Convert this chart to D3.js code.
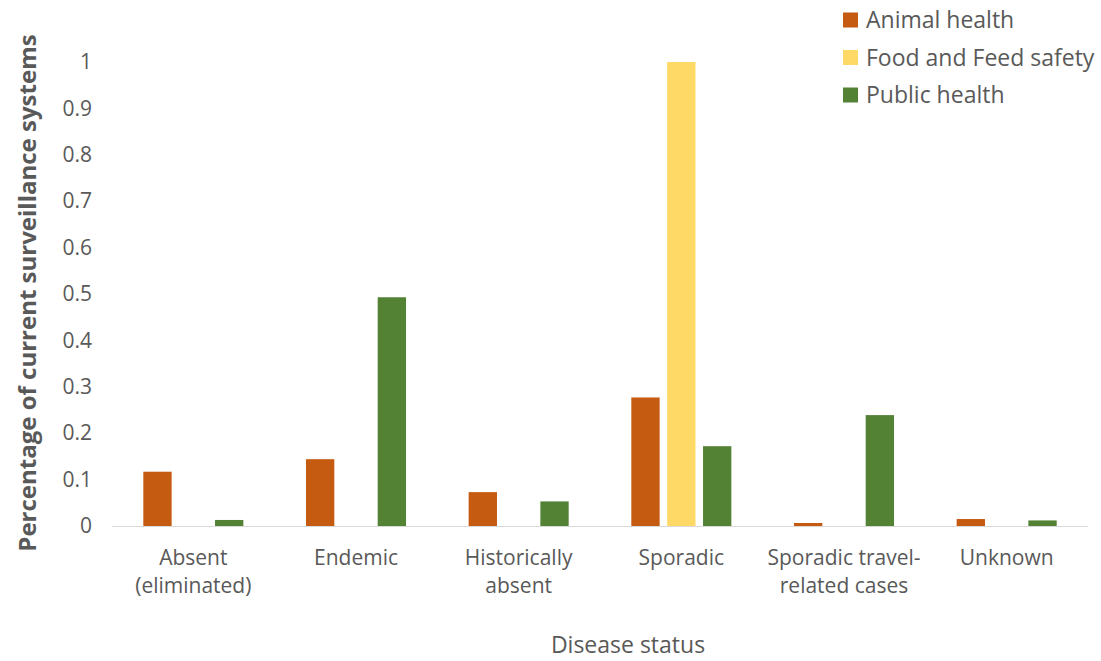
<!DOCTYPE html>
<html>
<head>
<meta charset="utf-8">
<script src="https://cdn.jsdelivr.net/npm/d3@7"></script>
<style>
  html, body { margin: 0; padding: 0; background: #fff; }
  svg { display: block; font-family: "Open Sans", Lato, sans-serif; }
</style>
</head>
<body>
<svg id="chart" width="1101" height="661"></svg>
<script>
// Disease status categories (second line after "\n")
const categories = [
  "Absent\n(eliminated)",
  "Endemic",
  "Historically\nabsent",
  "Sporadic",
  "Sporadic travel-\nrelated cases",
  "Unknown"
];
const seriesNames = ["Animal health", "Food and Feed safety", "Public health"];
const animalHealth = [0.117, 0.144, 0.073, 0.277, 0.0065, 0.015];
const foodFeedSafety = [0, 0, 0, 1.0, 0, 0];
const publicHealth = [0.013, 0.493, 0.053, 0.172, 0.239, 0.012];
const yTicks = [0, 0.1, 0.2, 0.3, 0.4, 0.5, 0.6, 0.7, 0.8, 0.9, 1];
const colors = ["#C55A11", "#FFD966", "#548235"];

const seriesValues = [animalHealth, foodFeedSafety, publicHealth];

const svg = d3.select("#chart");
const margin = { left: 112, right: 13, top: 62, bottom: 135 };
const W = 1101, H = 661;
const plotBottom = H - margin.bottom; // 526

const x0 = d3.scaleBand()
  .domain(d3.range(categories.length))
  .range([margin.left, W - margin.right])
  .paddingInner(0).paddingOuter(0);

// Group occupies ~62% of each category, bars separated by small gaps
const groupFrac = 0.615;
const x1 = d3.scaleBand()
  .domain(d3.range(seriesNames.length))
  .range([0, x0.bandwidth() * groupFrac])
  .paddingInner(0.21).paddingOuter(0);

const y = d3.scaleLinear().domain([0, 1]).range([plotBottom, margin.top]);

const textColor = "#595959";

// Bars
const groups = svg.append("g").selectAll("g")
  .data(categories)
  .join("g")
  .attr("transform", (d, i) => `translate(${x0(i) + x0.bandwidth() * (1 - groupFrac) / 2},0)`);

groups.selectAll("rect")
  .data((d, i) => seriesValues.map((vals, s) => ({ s, v: vals[i] })))
  .join("rect")
  .filter(d => d.v > 0)
  .attr("x", d => x1(d.s))
  .attr("width", x1.bandwidth())
  .attr("y", d => y(d.v))
  .attr("height", d => plotBottom - y(d.v))
  .attr("fill", d => colors[d.s]);

// Category axis line
svg.append("line")
  .attr("x1", x0.range()[0]).attr("x2", x0.range()[1])
  .attr("y1", plotBottom + 0.5).attr("y2", plotBottom + 0.5)
  .attr("stroke", "#d9d9d9").attr("stroke-width", 1);

// Y axis tick labels
const yAxis = d3.axisLeft(y).tickValues(yTicks).tickSize(0).tickPadding(0)
  .tickFormat(d => d3.format("~g")(d));
const yg = svg.append("g").attr("transform", `translate(${92},0)`).call(yAxis);
yg.select(".domain").remove();
yg.selectAll("text")
  .attr("fill", textColor)
  .style("font-size", "21px")
  .style("font-family", "'Open Sans', Lato, sans-serif");

// Category labels
const catLabels = svg.append("g").selectAll("text")
  .data(categories)
  .join("text")
  .attr("x", (d, i) => x0(i) + x0.bandwidth() / 2)
  .attr("y", 565)
  .attr("text-anchor", "middle")
  .attr("fill", textColor)
  .style("font-size", "21px");
catLabels.each(function(d) {
  const lines = d.split("\n");
  const t = d3.select(this);
  lines.forEach((ln, k) => {
    t.append("tspan")
      .attr("x", t.attr("x"))
      .attr("dy", k === 0 ? 0 : 28)
      .text(ln);
  });
});

// Axis titles
svg.append("text")
  .attr("transform", `translate(36,${293}) rotate(-90)`)
  .attr("text-anchor", "middle")
  .attr("fill", textColor)
  .style("font-size", "24px")
  .style("font-weight", "bold")
  .text("Percentage of current surveillance systems");

svg.append("text")
  .attr("x", 628).attr("y", 653)
  .attr("text-anchor", "middle")
  .attr("fill", textColor)
  .style("font-size", "23px")
  .text("Disease status");

// Legend
const legend = svg.append("g").selectAll("g")
  .data(seriesNames)
  .join("g")
  .attr("transform", (d, i) => `translate(843,${20 + i * 37.5})`);
legend.append("rect")
  .attr("x", 0).attr("y", -7.5)
  .attr("width", 15).attr("height", 15)
  .attr("fill", (d, i) => colors[i]);
legend.append("text")
  .attr("x", 23).attr("y", 0).attr("dy", "0.35em")
  .attr("fill", textColor)
  .style("font-size", "23px")
  .text(d => d);
</script>
</body>
</html>
